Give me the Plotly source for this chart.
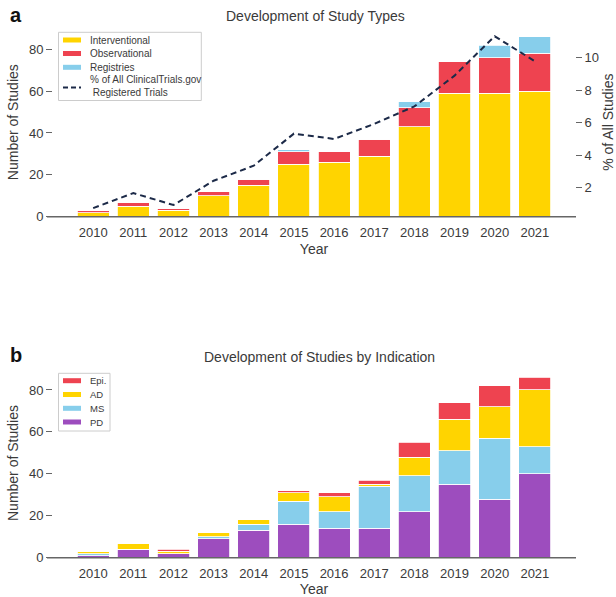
import plotly.graph_objects as go

years = [2010, 2011, 2012, 2013, 2014, 2015, 2016, 2017, 2018, 2019, 2020, 2021]

# Panel a: study types
interventional = [2, 5, 3, 10, 15, 25, 26, 29, 43, 59, 59, 60]
observational = [1, 2, 1, 2, 3, 6, 5, 8, 9, 15, 17, 18]
registries = [0, 0, 0, 0, 0, 1, 0, 0, 3, 0, 6, 8]
pct_all_trials = [0.72, 1.65, 0.91, 2.41, 3.34, 5.32, 4.99, 5.92, 7.0, 8.9, 11.33, 9.79]

# Panel b: indications
pd_counts = [1, 4, 2, 9, 13, 16, 14, 14, 22, 35, 28, 40]
ms_counts = [1, 0, 0, 1, 3, 11, 8, 20, 17, 16, 29, 13]
ad_counts = [1, 3, 1, 2, 2, 4, 7, 1, 9, 15, 15, 27]
epi_counts = [0, 0, 1, 0, 0, 1, 2, 2, 7, 8, 10, 6]

YELLOW = "#FFD400"
RED = "#EE4350"
BLUE = "#87CEEB"
PURPLE = "#9D4DBE"
NAVY = "#1C2A48"
TXT = "#3a3a3a"
AX = "#666666"
FONT = "Liberation Sans, Arial, sans-serif"

W, H = 616, 597
def px_x(p):
    return p / W
def px_y(p):
    return 1 - p / H

fig = go.Figure()
bar_kw = dict(width=0.8, marker_line_color="white", marker_line_width=0.8, showlegend=False)

fig.add_trace(go.Bar(x=years, y=interventional, name="Interventional", marker_color=YELLOW,
                     xaxis="x", yaxis="y", **bar_kw))
fig.add_trace(go.Bar(x=years, y=observational, name="Observational", marker_color=RED,
                     xaxis="x", yaxis="y", **bar_kw))
fig.add_trace(go.Bar(x=years, y=registries, name="Registries", marker_color=BLUE,
                     xaxis="x", yaxis="y", **bar_kw))
fig.add_trace(go.Scatter(x=years, y=pct_all_trials, mode="lines", showlegend=False,
                         name="% of All ClinicalTrials.gov Registered Trials",
                         line=dict(color=NAVY, width=2, dash="6px,4px"),
                         xaxis="x", yaxis="y2"))

fig.add_trace(go.Bar(x=years, y=pd_counts, name="PD", marker_color=PURPLE,
                     xaxis="x2", yaxis="y3", **bar_kw))
fig.add_trace(go.Bar(x=years, y=ms_counts, name="MS", marker_color=BLUE,
                     xaxis="x2", yaxis="y3", **bar_kw))
fig.add_trace(go.Bar(x=years, y=ad_counts, name="AD", marker_color=YELLOW,
                     xaxis="x2", yaxis="y3", **bar_kw))
fig.add_trace(go.Bar(x=years, y=epi_counts, name="Epi.", marker_color=RED,
                     xaxis="x2", yaxis="y3", **bar_kw))

xdom = [px_x(53), px_x(575)]
xcommon = dict(range=[2009, 2022], tickmode="array", tickvals=years,
               ticktext=[str(y) for y in years], showgrid=False, zeroline=False,
               showline=False, ticks="outside", ticklen=4, tickcolor="rgba(0,0,0,0)",
               automargin=False,
               tickfont=dict(size=13, color=TXT, family=FONT),
               title=dict(text="Year", font=dict(size=14, color=TXT, family=FONT), standoff=4))
ycommon = dict(range=[0, 90.3], tickvals=[0, 20, 40, 60, 80], showgrid=False, zeroline=False,
               showline=False, ticks="outside", ticklen=6, tickwidth=1.2, tickcolor=AX,
               automargin=False,
               tickfont=dict(size=13, color=TXT, family=FONT),
               title=dict(text="Number of Studies", font=dict(size=14, color=TXT, family=FONT), standoff=7))

shapes = [
    dict(type="line", xref="paper", yref="paper", x0=px_x(47), x1=px_x(576),
         y0=px_y(216.7), y1=px_y(216.7), line=dict(color=AX, width=1.5), layer="above"),
    dict(type="line", xref="paper", yref="paper", x0=px_x(47), x1=px_x(576),
         y0=px_y(557.7), y1=px_y(557.7), line=dict(color=AX, width=1.5), layer="above"),
]
annotations = [
    dict(text="<b>a</b>", x=px_x(8), y=px_y(15), xref="paper", yref="paper",
         xanchor="left", yanchor="middle", showarrow=False,
         font=dict(size=20, color="#111111", family=FONT)),
    dict(text="<b>b</b>", x=px_x(8), y=px_y(355), xref="paper", yref="paper",
         xanchor="left", yanchor="middle", showarrow=False,
         font=dict(size=20, color="#111111", family=FONT)),
    dict(text="Development of Study Types", x=px_x(315), y=px_y(16), xref="paper", yref="paper",
         xanchor="center", yanchor="middle", showarrow=False,
         font=dict(size=14, color=TXT, family=FONT)),
    dict(text="Development of Studies by Indication", x=px_x(320), y=px_y(357), xref="paper",
         yref="paper", xanchor="center", yanchor="middle", showarrow=False,
         font=dict(size=14, color=TXT, family=FONT)),
]

def legend_box(x0, y0, x1, y1):
    shapes.append(dict(type="rect", xref="paper", yref="paper", x0=px_x(x0), x1=px_x(x1),
                       y0=px_y(y1), y1=px_y(y0), line=dict(color="#cccccc", width=1),
                       fillcolor="rgba(255,255,255,0.85)", layer="above"))

def legend_patch(yc, color, label, size):
    shapes.append(dict(type="rect", xref="paper", yref="paper", x0=px_x(63), x1=px_x(81),
                       y0=px_y(yc + 2.5), y1=px_y(yc - 2.5), line=dict(width=0),
                       fillcolor=color, layer="above"))
    annotations.append(dict(text=label, x=px_x(88), y=px_y(yc), xref="paper", yref="paper",
                            xanchor="left", yanchor="middle", showarrow=False,
                            font=dict(size=size, color=TXT, family=FONT)))

# legend a
legend_box(58.5, 32.3, 201.3, 100.5)
legend_patch(40, YELLOW, "Interventional", 10)
legend_patch(53.5, RED, "Observational", 10)
legend_patch(67.3, BLUE, "Registries", 10)
shapes.append(dict(type="line", xref="paper", yref="paper", x0=px_x(63), x1=px_x(81),
                   y0=px_y(87.5), y1=px_y(87.5), line=dict(color=NAVY, width=2, dash="5px,3px"),
                   layer="above"))
annotations.append(dict(text="% of All ClinicalTrials.gov<br> Registered Trials", x=px_x(88),
                        y=px_y(86.5), xref="paper", yref="paper", xanchor="left", yanchor="middle",
                        align="left", showarrow=False,
                        font=dict(size=10, color=TXT, family=FONT)))

# legend b
legend_box(58.5, 373.3, 110, 431)
legend_patch(380.7, RED, "Epi.", 9.5)
legend_patch(394.5, YELLOW, "AD", 9.5)
legend_patch(408.3, BLUE, "MS", 9.5)
legend_patch(422, PURPLE, "PD", 9.5)

fig.update_layout(
    width=W, height=H, margin=dict(l=0, r=0, t=0, b=0),
    paper_bgcolor="white", plot_bgcolor="white",
    barmode="stack", bargap=0.2, showlegend=False,
    font=dict(family=FONT, color=TXT),
    xaxis=dict(domain=xdom, anchor="y", **xcommon),
    yaxis=dict(domain=[px_y(216.7), px_y(27.7)], anchor="x", **ycommon),
    yaxis2=dict(overlaying="y", side="right", anchor="x", range=[0.19, 11.86],
                tickvals=[2, 4, 6, 8, 10], showgrid=False, zeroline=False, showline=False,
                ticks="outside", ticklen=6, tickwidth=1.2, tickcolor=AX, automargin=False,
                tickfont=dict(size=13, color=TXT, family=FONT),
                title=dict(text="% of All Studies", font=dict(size=14, color=TXT, family=FONT), standoff=14)),
    xaxis2=dict(domain=xdom, anchor="y3", **xcommon),
    yaxis3=dict(domain=[px_y(557.7), px_y(368.4)], anchor="x2", **ycommon),
    annotations=annotations,
    shapes=shapes,
)

fig.write_html("out.html")
